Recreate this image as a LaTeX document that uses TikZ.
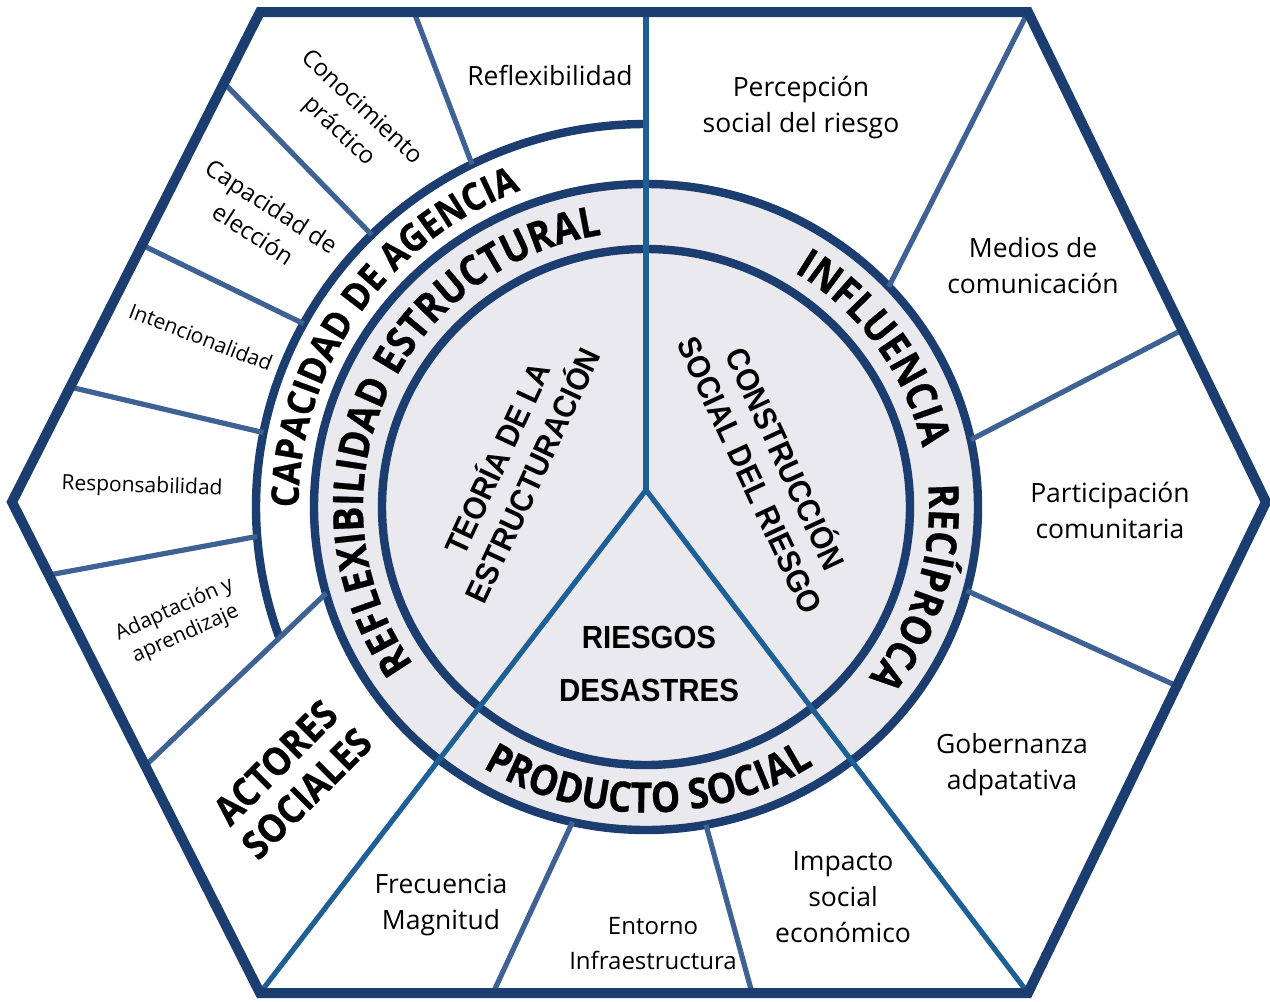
\documentclass[tikz,border=0pt]{standalone}
\usepackage{fontspec}
\setmainfont{Open Sans}
\newfontfamily\libsansnarrow{Liberation Sans}[FakeStretch=0.92]
\newfontfamily\osnarrow{Open Sans}[FakeStretch=0.88,FakeBold=0.6]
\newfontfamily\osnarrowb{Open Sans}[FakeStretch=0.9,FakeBold=0.6]
\usetikzlibrary{decorations.text}
\definecolor{navy}{HTML}{1C3D70}
\definecolor{steel}{HTML}{3E6294}
\definecolor{ybl}{HTML}{1E5F96}
\definecolor{ringgrey}{HTML}{EAEAEE}
\newcommand\curvefont{\osnarrow\bfseries\fontsize{21}{22}\selectfont}
\newcommand\agencyfont{\osnarrowb\bfseries\fontsize{19}{20}\selectfont}
\begin{document}
\begin{tikzpicture}[x=0.5pt,y=0.5pt,
  hexline/.style={draw=navy,line width=5pt,line join=miter},
  ringline/.style={draw=navy,line width=4.2pt},
  cellline/.style={draw=steel,line width=2.6pt},
  yline/.style={draw=ybl,line width=2.6pt},
  lbl/.style={font=\fontsize{13.25}{18}\selectfont,align=center,text=black},
  lblmd/.style={font=\fontsize{12}{16.5}\selectfont,align=center},
  lblsm/.style={font=\fontsize{10.5}{13.5}\selectfont,align=center},
  bigbold/.style={font=\osnarrowb\bfseries\fontsize{19.5}{22}\selectfont,align=center},
  innertxt/.style={font=\libsansnarrow\bfseries\fontsize{16}{19.5}\selectfont,align=center}]
\useasboundingbox (0,0) rectangle (1270,-1002);
\fill[white] (0,0) rectangle (1270,-1002);
% key points
\coordinate (C) at (646,-507);
\coordinate (J) at (646,-490);
\coordinate (h1) at (260,-12);
\coordinate (h2) at (1028,-12);
\coordinate (h3) at (1266,-502);
\coordinate (h4) at (1028,-993);
\coordinate (h5) at (260,-993);
\coordinate (h6) at (12,-502);
\coordinate (topv) at (646,-12);
% grey disc and rings
\fill[ringgrey] (C) ellipse [x radius=332,y radius=323];
\draw[ringline] (C) ellipse [x radius=332,y radius=323];
\draw[ringline] (C) ellipse [x radius=264,y radius=258];
\draw[ringline] (646,-124) arc [start angle=90,end angle=200,x radius=390,y radius=383];
% cell lines
\coordinate (l1a) at (414,-12);   \coordinate (l1b) at (472,-164.3);
\coordinate (l2a) at (224,-83);   \coordinate (l2b) at (371.7,-234.8);
\coordinate (l3a) at (142,-245);  \coordinate (l3b) at (303.6,-323.7);
\coordinate (l4a) at (70,-387);   \coordinate (l4b) at (263.4,-432.6);
\coordinate (l5a) at (49,-575);   \coordinate (l5b) at (257.1,-536.4);
\coordinate (l6a) at (145,-766);  \coordinate (l6b) at (326.1,-593.3);
\coordinate (r1b) at (888.8,-286.7);
\coordinate (r2a) at (1182,-330); \coordinate (r2b) at (970.7,-439.8);
\coordinate (r3a) at (1177,-686); \coordinate (r3b) at (966.7,-590.6);
\coordinate (b1a) at (493,-993);  \coordinate (b1b) at (572.5,-821.9);
\coordinate (b2a) at (752,-993);  \coordinate (b2b) at (705.9,-824.7);
\foreach \p in {l1,l2,l3,l4,l5,l6,r2,r3,b1,b2}{\draw[cellline] (\p a) -- (\p b);}
\draw[cellline] (h2) -- (r1b);
% vertical and Y lines
\draw[yline] (J) -- (topv);
\draw[yline] (h5) -- (J) -- (h4);
% hexagon
\draw[hexline] (h1) -- (h2) -- (h3) -- (h4) -- (h5) -- (h6) -- cycle;
% curved texts
\path[decorate,decoration={text along path,text align=center,
  text={|\curvefont|REFLEXIBILIDAD ESTRUCTURAL}}]
  (C) ++(232:283 and 275.5) arc [start angle=232,end angle=82,x radius=283,y radius=275.5];
\path[decorate,decoration={text along path,text align=center,
  text={|\agencyfont|CAPACIDAD DE AGENCIA}}]
  (C) ++(226:347.5 and 339.5) arc [start angle=226,end angle=66,x radius=347.5,y radius=339.5];
\path[decorate,decoration={text along path,text align=center,
  text={|\curvefont|INFLUENCIA}}]
  (C) ++(95:283 and 275.5) arc [start angle=95,end angle=-25,x radius=283,y radius=275.5];
\path[decorate,decoration={text along path,text align=center,
  text={|\curvefont|RECÍPROCA}}]
  (C) ++(43.5:283 and 275.5) arc [start angle=43.5,end angle=-76.5,x radius=283,y radius=275.5];
\path[decorate,decoration={text along path,text align=center,
  text={|\curvefont|PRODUCTO SOCIAL}}]
  (C) ++(190.5:313 and 305.5) arc [start angle=190.5,end angle=350.5,x radius=313,y radius=305.5];
% labels
\node[lbl] (reflex) at (550,-75) {Reflexibilidad};
\node[lbl] (percep) at (801,-108) {Percepción\\social del riesgo};
\node[lbl] (medios) at (1033,-266) {Medios de\\comunicación};
\node[lbl] (partic) at (1110,-510) {Participación\\comunitaria};
\node[lbl] (gober) at (1012,-765) {Gobernanza\\adpatativa};
\node[lbl] (impac) at (843,-897) {Impacto\\social\\económico};
\node[lbl,font=\fontsize{12}{17.5}\selectfont] (entor) at (653,-944) {Entorno\\Infraestructura};
\node[lbl] (frec) at (441,-905) {Frecuencia\\Magnitud};
\node[lblmd,rotate=-43] (conoc) at (350,-120) {Conocimiento\\práctico};
\node[lblmd,rotate=-33] (capel) at (263,-220) {Capacidad de\\elección};
\node[lblsm,rotate=-21] (inten) at (201,-337) {Intencionalidad};
\node[lblsm,rotate=-2] (respo) at (142,-487) {Responsabilidad};
\node[lblsm,rotate=24] (adapt) at (180,-622) {Adaptación y\\aprendizaje};
\node[bigbold,rotate=45] (actor) at (291,-778) {ACTORES\\SOCIALES};
\node[innertxt,rotate=65] (teoria) at (513,-466) {TEORÍA DE LA\\ESTRUCTURACIÓN};
\node[innertxt,rotate=-65] (constr) at (770,-466) {CONSTRUCCIÓN\\SOCIAL DEL RIESGO};
\node[innertxt] (riesgos) at (649,-637) {RIESGOS};
\node[innertxt] (desast) at (649,-690) {DESASTRES};
\end{tikzpicture}
\end{document}
